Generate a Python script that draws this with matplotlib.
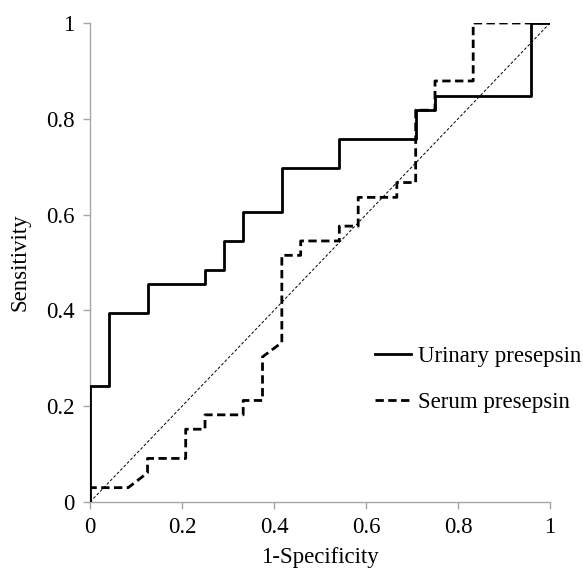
import numpy as np
import matplotlib.pyplot as plt

# ROC curve points (1-specificity, sensitivity)
urinary_fpr = [0, 0, 0.042, 0.042, 0.125, 0.125, 0.25, 0.25, 0.292, 0.292, 0.333, 0.333,
               0.417, 0.417, 0.542, 0.542, 0.708, 0.708, 0.75, 0.75, 0.958, 0.958, 1]
urinary_tpr = [0, 0.242, 0.242, 0.394, 0.394, 0.455, 0.455, 0.485, 0.485, 0.545, 0.545, 0.606,
               0.606, 0.697, 0.697, 0.758, 0.758, 0.818, 0.818, 0.848, 0.848, 1, 1]

serum_fpr = [0, 0, 0.083, 0.125, 0.125, 0.208, 0.208, 0.25, 0.25, 0.333, 0.333, 0.375, 0.375,
             0.417, 0.417, 0.458, 0.458, 0.542, 0.542, 0.583, 0.583, 0.667, 0.667, 0.708,
             0.708, 0.75, 0.75, 0.833, 0.833, 1]
serum_tpr = [0, 0.03, 0.03, 0.061, 0.091, 0.091, 0.152, 0.152, 0.182, 0.182, 0.212, 0.212, 0.303,
             0.333, 0.515, 0.515, 0.545, 0.545, 0.576, 0.576, 0.636, 0.636, 0.667, 0.667,
             0.818, 0.818, 0.879, 0.879, 1, 1]

ticks = [0, 0.2, 0.4, 0.6, 0.8, 1]
tick_labels = ['0', '0.2', '0.4', '0.6', '0.8', '1']

plt.rcParams['font.family'] = ['Liberation Serif', 'DejaVu Serif']

fig = plt.figure(figsize=(5.83, 5.71), dpi=100)
ax = fig.add_axes([0.1544, 0.1208, 0.789, 0.8389])

ax.plot([0, 1], [0, 1], color='black', lw=0.7, linestyle=(0, (3, 2)), zorder=1)
ax.plot(urinary_fpr, urinary_tpr, color='black', lw=2, label='Urinary presepsin', zorder=3)
ax.plot(serum_fpr, serum_tpr, color='black', lw=2, linestyle=(0, (3, 1.6)),
        label='Serum presepsin', zorder=2)

ax.set_xlim(0, 1)
ax.set_ylim(0, 1)
ax.set_xticks(ticks)
ax.set_xticklabels(tick_labels)
ax.set_yticks(ticks)
ax.set_yticklabels(tick_labels)

for side in ['top', 'right']:
    ax.spines[side].set_visible(False)
for side in ['left', 'bottom']:
    ax.spines[side].set_color('#a6a6a6')
    ax.spines[side].set_linewidth(1)
ax.tick_params(axis='both', direction='out', length=5, width=1, color='#a6a6a6',
               labelsize=16.5, pad=6)

ax.set_xlabel('1-Specificity', fontsize=16.5, labelpad=6)
ax.set_ylabel('Sensitivity', fontsize=16.5, labelpad=11)

ax.legend(frameon=False, fontsize=16.5, loc='upper left', bbox_to_anchor=(0.6, 0.345),
          handlelength=1.55, handletextpad=0.3, labelspacing=1.1, borderaxespad=0)

fig.savefig('out.png', dpi=100)
